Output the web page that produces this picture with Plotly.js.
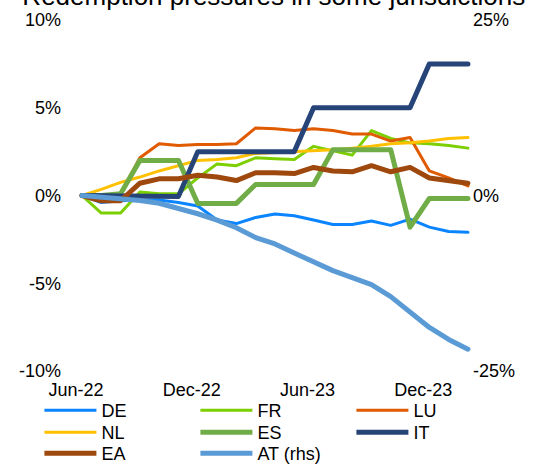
<!DOCTYPE html>
<html>
<head>
<meta charset="utf-8">
<script src="https://cdn.plot.ly/plotly-3.0.1.min.js"></script>
<style>
html,body{margin:0;padding:0;background:#fff;}
#chart{width:539px;height:464px;}
.scatterlayer .js-line{stroke-linejoin:round;stroke-linecap:round;}
</style>
</head>
<body>
<div id="chart"></div>
<script>
var months = ["Jun-22","Jul-22","Aug-22","Sep-22","Oct-22","Nov-22","Dec-22","Jan-23","Feb-23","Mar-23","Apr-23","May-23","Jun-23","Jul-23","Aug-23","Sep-23","Oct-23","Nov-23","Dec-23","Jan-24","Feb-24"];
var xTickLabels = ["Jun-22","Dec-22","Jun-23","Dec-23"];
var leftTicks = [-10,-5,0,5,10];
var leftTickText = ["-10%","-5%","0%","5%","10%"];
var rightTicks = [-25,0,25];
var rightTickText = ["-25%","0%","25%"];

var DE = [0,-0.4,-0.3,-0.25,-0.25,-0.4,-0.6,-1.4,-1.6,-1.25,-1.05,-1.15,-1.4,-1.65,-1.65,-1.45,-1.7,-1.35,-1.8,-2.05,-2.1];
var FR = [0,-1.0,-1.0,0.2,0.1,0.1,1.0,1.8,1.7,2.15,2.1,2.05,2.8,2.55,2.3,3.7,3.25,3.0,2.95,2.85,2.7];
var LU = [0,-0.2,0.1,2.15,2.95,2.85,2.9,2.9,2.95,3.85,3.8,3.7,3.8,3.7,3.5,3.5,3.1,3.3,1.4,1.0,0.55];
var NL = [0,0.35,0.75,1.05,1.4,1.7,2.0,2.05,2.15,2.4,2.45,2.5,2.55,2.6,2.7,2.8,2.95,3.0,3.1,3.25,3.3];
var ES = [0,0,0.1,2.0,2.0,2.0,-0.45,-0.45,-0.45,0.63,0.63,0.63,0.63,2.6,2.6,2.6,2.6,-1.8,-0.17,-0.17,-0.17];
var IT = [0,-0.02,-0.03,-0.04,-0.05,-0.05,2.5,2.5,2.5,2.5,2.5,2.5,5.0,5.0,5.0,5.0,5.0,5.0,7.5,7.5,7.5];
var EA = [0,-0.3,-0.3,0.7,0.95,0.95,1.15,1.05,0.85,1.3,1.3,1.25,1.6,1.4,1.35,1.7,1.35,1.6,1.0,0.85,0.7];
var AT = [0,-0.2,-0.4,-0.7,-1.1,-1.8,-2.6,-3.5,-4.6,-6.0,-6.9,-8.2,-9.5,-10.7,-11.7,-12.7,-14.4,-16.7,-18.8,-20.5,-21.9];

function tr(name, y, color, width, legend, yaxis) {
  return {x: months, y: y, name: name, type: 'scatter', mode: 'lines',
          line: {color: color, width: width}, yaxis: yaxis || 'y', legend: legend, hoverinfo: 'skip'};
}
var data = [
  tr('DE', DE, '#0A84FF', 3, 'legend'),
  tr('FR', FR, '#7CCF00', 3, 'legend'),
  tr('LU', LU, '#E05A00', 3, 'legend'),
  tr('NL', NL, '#FFC000', 3, 'legend2'),
  tr('ES', ES, '#70AD47', 5, 'legend2'),
  tr('IT', IT, '#264478', 5, 'legend2'),
  tr('EA', EA, '#9E480E', 5, 'legend3'),
  tr('AT (rhs)', AT, '#5B9BD5', 5, 'legend3', 'y2')
];
var font = {family: 'Liberation Sans, Arial, sans-serif', size: 18, color: '#000'};
function leg(y) {
  return {orientation: 'h', x: -0.0551, xanchor: 'left', y: y, yanchor: 'top',
          font: font, itemwidth: 52, entrywidth: 89, entrywidthmode: 'pixels',
          bgcolor: 'rgba(0,0,0,0)', borderwidth: 0, traceorder: 'normal'};
}
var layout = {
  width: 539, height: 464,
  margin: {l: 62, r: 67, t: 20, b: 93, pad: 0, autoexpand: false},
  paper_bgcolor: '#fff', plot_bgcolor: '#fff',
  font: font,
  title: {text: 'Redemption pressures in some jurisdictions', font: {family: 'Liberation Sans, Arial, sans-serif', size: 26, color: '#000'},
          xref: 'container', x: 0.508, xanchor: 'center', yref: 'container', y: 1, yanchor: 'bottom',
          pad: {t: 0, b: -5, l: 0, r: 0}},
  showlegend: true,
  xaxis: {type: 'category', categoryorder: 'array', categoryarray: months,
          range: [-1.036, 20.21], tickmode: 'array', tickvals: xTickLabels, ticktext: xTickLabels,
          showgrid: false, zeroline: false, showline: false, ticks: '', tickfont: font,
          ticklabelstandoff: 6, ticklabelshift: -6, automargin: false},
  yaxis: {range: [-10, 10], tickmode: 'array', tickvals: leftTicks, ticktext: leftTickText,
          showgrid: false, zeroline: false, showline: false, ticks: '', tickfont: font, automargin: false},
  yaxis2: {range: [-25, 25], overlaying: 'y', side: 'right', tickmode: 'array', tickvals: rightTicks, ticktext: rightTickText,
           showgrid: false, zeroline: false, showline: false, ticks: '', tickfont: font, automargin: false},
  legend: leg(-0.0598),
  legend2: leg(-0.1225),
  legend3: leg(-0.1823)
};
Plotly.newPlot('chart', data, layout, {staticPlot: true, displayModeBar: false});
</script>
</body>
</html>
